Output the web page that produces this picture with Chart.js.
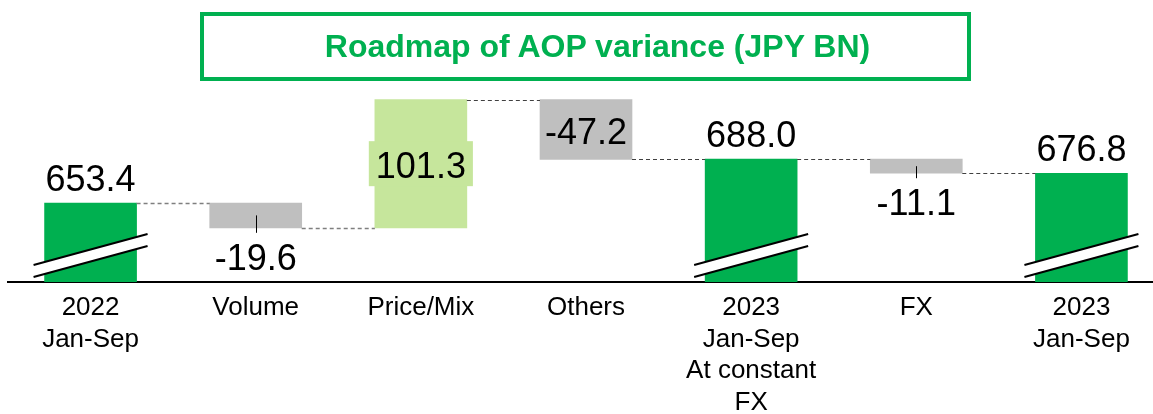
<!DOCTYPE html>
<html>
<head>
<meta charset="utf-8">
<script src="https://cdn.jsdelivr.net/npm/chart.js@4.4.0/dist/chart.umd.min.js"></script>
<style>
  html, body { margin: 0; padding: 0; background: #fff; overflow: hidden; }
  #wrap { position: relative; width: 1164px; height: 414px; }
  #title {
    position: absolute; left: 200px; top: 12px; width: 739px; height: 61px;
    padding-left: 24px;
    border: 4px solid #00B050; color: #00B050;
    font: bold 32px 'Liberation Sans', Arial, sans-serif;
    text-align: center; line-height: 61px;
  }
</style>
</head>
<body>
<div id="wrap">
  <canvas id="chart" width="1164" height="414"></canvas>
  <div id="title">Roadmap of AOP variance (JPY BN)</div>
</div>
<script>
const categories = [['2022', 'Jan-Sep'], 'Volume', 'Price/Mix', 'Others', ['2023', 'Jan-Sep', 'At constant', 'FX'], 'FX', ['2023', 'Jan-Sep']]
const values = [653.4, -19.6, 101.3, -47.2, 688.0, -11.1, 676.8]
const isTotal = [true, false, false, false, true, false, true]
const valueLabels = ['653.4', '-19.6', '101.3', '-47.2', '688.0', '-11.1', '676.8']

// broken axis: bars start from here
const Y_MIN = 591
const Y_MAX = 745

const GREEN = '#00B050'
const LIGHT = '#C6E69C'
const GRAY = '#BFBFBF'
const FONT = "'Liberation Sans', Arial, sans-serif"

// floating [start, end] ranges for the waterfall
let running = 0
const ranges = values.map((v, i) => {
  if (isTotal[i]) { running = v; return [Y_MIN, v] }
  const start = running
  running += v
  return [start, running]
})
const colors = values.map((v, i) => isTotal[i] ? GREEN : (v < 0 ? GRAY : LIGHT))

const waterfallPlugin = {
  id: 'waterfall',
  afterDatasetsDraw(chart) {
    const ctx = chart.ctx
    const y = chart.scales.y
    const bottom = chart.chartArea.bottom
    const bars = chart.getDatasetMeta(0).data.map(b => b.getProps(['x', 'y', 'base', 'width'], true))

    ctx.save()

    // dashed connectors between bars
    bars.forEach((bar, i) => {
      if (i === bars.length - 1) return
      const next = bars[i + 1]
      const level = Math.round(y.getPixelForValue(ranges[i][1])) + 0.5
      ctx.beginPath()
      ctx.setLineDash([4, 3])
      ctx.strokeStyle = i < 2 ? '#7F7F7F' : '#404040'
      ctx.lineWidth = i < 2 ? 1.5 : 1
      ctx.moveTo(bar.x + bar.width / 2, level)
      ctx.lineTo(next.x - next.width / 2, level)
      ctx.stroke()
    })
    ctx.setLineDash([])

    // axis break marks on the total bars
    bars.forEach((bar, i) => {
      if (!isTotal[i]) return
      const l = bar.x - bar.width / 2 - 11
      const r = bar.x + bar.width / 2 + 11
      ctx.beginPath()
      ctx.moveTo(l, bottom - 17)
      ctx.lineTo(r, bottom - 48)
      ctx.lineTo(r, bottom - 36)
      ctx.lineTo(l, bottom - 5)
      ctx.closePath()
      ctx.fillStyle = '#fff'
      ctx.fill()
      ctx.strokeStyle = '#000'
      ctx.lineWidth = 2
      ctx.beginPath()
      ctx.moveTo(l, bottom - 17)
      ctx.lineTo(r, bottom - 48)
      ctx.moveTo(l, bottom - 5)
      ctx.lineTo(r, bottom - 36)
      ctx.stroke()
    })

    // value labels
    ctx.font = '36px ' + FONT
    ctx.textAlign = 'center'
    ctx.textBaseline = 'alphabetic'
    bars.forEach((bar, i) => {
      const top = Math.min(bar.y, bar.base)
      const bot = Math.max(bar.y, bar.base)
      ctx.fillStyle = '#000'
      if (isTotal[i]) {
        ctx.fillText(valueLabels[i], bar.x, top - 12)
        return
      }
      if (bot - top > 50) {
        const cy = (top + bot) / 2
        if (values[i] > 0) {
          const w = ctx.measureText(valueLabels[i]).width + 14
          ctx.fillStyle = colors[i]
          ctx.fillRect(bar.x - w / 2, cy - 22.5, w, 45)
          ctx.fillStyle = '#000'
        }
        ctx.fillText(valueLabels[i], bar.x, cy + 14.5)
        return
      }
      // short bars: small leader tick, label below
      ctx.strokeStyle = '#000'
      ctx.lineWidth = 1
      ctx.beginPath()
      ctx.moveTo(Math.round(bar.x) + 0.5, (top + bot) / 2)
      ctx.lineTo(Math.round(bar.x) + 0.5, bot + 5)
      ctx.stroke()
      ctx.fillText(valueLabels[i], bar.x, bot + 42)
    })

    ctx.restore()
  }
}

new Chart(document.getElementById('chart'), {
  type: 'bar',
  plugins: [waterfallPlugin],
  data: {
    labels: categories,
    datasets: [{
      data: ranges,
      backgroundColor: colors,
      borderWidth: 0,
      barThickness: 92,
    }]
  },
  options: {
    responsive: false,
    devicePixelRatio: 1,
    animation: false,
    layout: { padding: { top: 87, left: 8, right: 0, bottom: 0 } },
    scales: {
      x: {
        grid: { display: false, drawTicks: false },
        border: { display: true, color: '#000', width: 2 },
        ticks: {
          color: '#000',
          font: { family: FONT, size: 26, lineHeight: 1.22 },
          padding: 10,
          maxRotation: 0,
          autoSkip: false,
        },
        afterFit(axis) { axis.height = 132 }
      },
      y: {
        display: false,
        min: Y_MIN,
        max: Y_MAX,
      }
    },
    plugins: {
      legend: { display: false },
      tooltip: { enabled: false },
    }
  }
})
</script>
</body>
</html>
